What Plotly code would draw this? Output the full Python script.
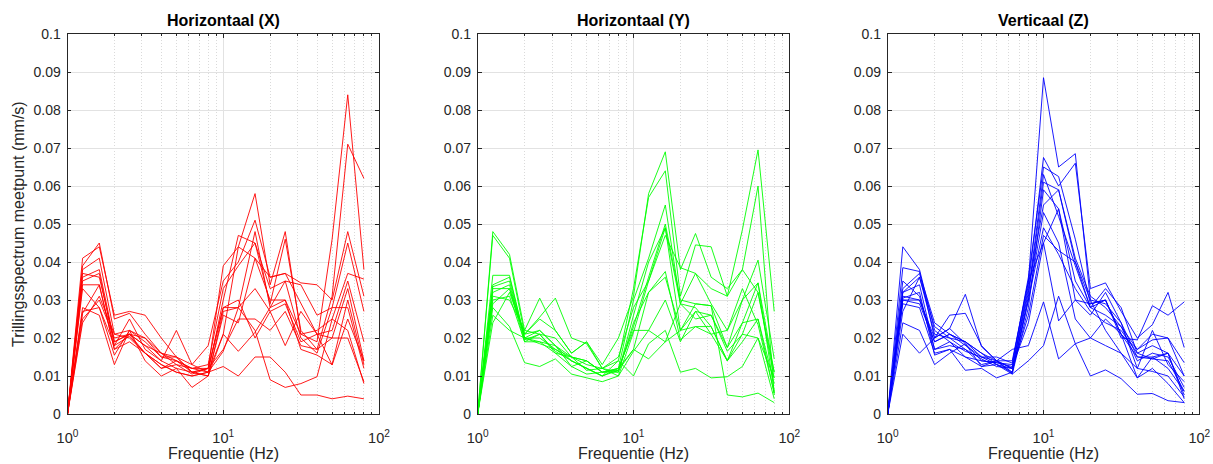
import plotly.graph_objects as go

# Third-octave band centre frequencies (Hz)
freq = [1, 1.25, 1.6, 2, 2.5, 3.15, 4, 5, 6.3, 8, 10, 12.5, 16, 20, 25, 31.5, 40, 50, 63, 80]

titles = ["Horizontaal (X)", "Horizontaal (Y)", "Verticaal (Z)"]
colors = ["#ff0000", "#00ff00", "#0000ff"]
y_title = "Trillingsspectrum meetpunt (mm/s)"
x_title = "Frequentie (Hz)"
y_tick_vals = [0, 0.01, 0.02, 0.03, 0.04, 0.05, 0.06, 0.07, 0.08, 0.09, 0.1]
y_tick_text = ["0", "0.01", "0.02", "0.03", "0.04", "0.05", "0.06", "0.07", "0.08", "0.09", "0.1"]
x_tick_vals = [1, 10, 100]
x_tick_text = ["10<sup>0</sup>", "10<sup>1</sup>", "10<sup>2</sup>"]

# values in 1e-3 mm/s
series_x = [
    [0, 41, 44, 26, 27, 26, 20, 15, 11, 12, 39, 44, 58, 34, 48, 21, 19, 46, 84, 38],
    [0, 39, 45, 25, 26.5, 21, 16, 14, 12, 11, 30, 47, 45, 29, 46, 22, 17, 31, 71, 62],
    [0, 38, 41, 21, 22, 20, 15, 15, 13, 18, 35, 40, 51, 36, 37, 34.5, 34, 30, 48, 31],
    [0, 36, 38, 19, 21, 18, 14, 12, 11, 12, 28, 28, 48, 28, 35, 34, 26, 28, 45, 27],
    [0, 35, 37, 18, 20.5, 16, 13, 11, 10, 11, 21, 44, 41, 30, 30, 21, 22, 25, 37, 35.5],
    [0, 34, 34, 17, 19, 16, 12, 14, 11, 10, 27, 28, 33, 27, 29, 19, 21, 22, 35, 19],
    [0, 33, 28, 15.5, 22, 19, 15, 14, 12, 12, 17, 25, 25, 22, 27, 18, 17, 20, 33, 14],
    [0, 28, 26, 13, 22, 14, 10, 12, 7, 10, 21, 16.5, 21.5, 28, 30, 17, 15.5, 13, 30, 13],
    [0, 27, 28, 18, 25, 17, 14, 22, 13, 11, 12.5, 10, 15, 15, 11, 5, 5, 4, 4.7, 4],
    [0, 26.5, 34, 17, 21, 16, 13, 11, 10, 11, 16.5, 28, 22, 9, 7, 8, 9.8, 25, 22, 8],
    [0, 25, 30, 20, 21, 18, 16, 13, 10.5, 12, 28, 30, 20, 27, 18, 27, 21, 12.9, 25, 14],
    [0, 24, 31, 21, 20, 16, 12, 13, 12, 13, 33, 39, 45, 33, 35, 20, 16, 28, 28, 12],
    [0, 37, 36, 19, 21, 20, 16, 15, 11, 10, 26, 24, 41, 36, 37, 29, 21, 20, 20, 8.5],
]

series_y = [
    [0, 48, 42, 22, 30.5, 22, 16, 19, 13, 20, 31, 58, 69, 38, 47.5, 36, 33, 38, 60, 5],
    [0, 47, 41, 21, 25.5, 30.5, 20, 18.5, 12, 14, 33, 57, 64, 31, 44.5, 44, 31, 48.5, 69.5, 27],
    [0, 36.5, 36.5, 20, 22, 18, 15, 14, 11, 12, 30, 41, 55, 29, 37, 29, 22, 30, 40.5, 14.5],
    [0, 33.5, 35, 19.5, 21, 16.5, 14, 12, 10, 11.5, 23, 36, 50, 30, 29, 28.5, 17.5, 24, 34.5, 11],
    [0, 33, 33, 19, 19, 16, 15, 11.5, 12, 10, 21.5, 35, 49, 22, 27, 26, 16.5, 21, 32, 9.5],
    [0, 31, 30, 22, 21, 16, 12.5, 14, 11, 12, 17, 32, 37.5, 19.5, 23, 23, 14, 19, 25, 8],
    [0, 28, 23, 13.5, 12.5, 14.5, 10.5, 9.5, 8.5, 10, 16.5, 22, 30, 19, 27, 21, 22, 33, 23.5, 5.5],
    [0, 26, 22, 20, 19, 18, 14, 12, 10, 14, 10, 18.5, 22, 11, 12, 9.5, 9.8, 12.5, 20, 4],
    [0, 24, 32, 21, 22, 18, 12.5, 10.5, 11, 11.5, 17, 14.5, 19, 22, 29, 28.5, 5, 4.5, 5.5, 3],
    [0, 32, 34, 20, 20, 17, 14, 12, 10, 12, 22, 22, 19, 29, 28, 23, 14, 24, 25, 5.5],
    [0, 30, 31, 19, 21, 20, 15, 13, 12, 11, 26, 40, 49, 29, 25, 26, 17.5, 30, 34.5, 6],
    [0, 29, 33, 21, 25, 22, 16, 19, 12, 15, 28, 35, 47, 38.5, 37, 33, 31, 38, 32, 11],
    [0, 34, 36, 20, 18.5, 17, 15, 14, 11, 11, 24, 32, 36, 22, 23, 21, 14, 21, 20, 9.5],
]

series_z = [
    [0, 31, 30, 19, 21, 19, 16, 14, 14, 35, 88.5, 65, 68.5, 30, 29, 24, 15, 14.5, 16, 5],
    [0, 44, 38, 22, 19, 16.5, 15, 14, 12, 34, 67.5, 60, 66, 33, 34.5, 27, 20, 23.5, 32, 17.5],
    [0, 38.5, 37.5, 20, 22.5, 18.5, 14, 13.5, 13, 36, 65, 62.5, 46, 29, 30, 21, 17, 19.5, 20, 13.5],
    [0, 33, 37, 24, 21, 19, 15, 13, 11, 31, 61, 59, 40, 28, 33, 28, 16, 18, 16, 10],
    [0, 32, 34, 17, 19, 15, 12.5, 13, 10.5, 28, 59, 54, 30, 26, 32, 24, 12, 22, 13, 8.5],
    [0, 30.5, 32, 15.5, 17, 11.5, 12, 9.5, 11, 30, 53, 45, 25, 20, 25, 21, 9.5, 15, 12, 6],
    [0, 30, 30, 20, 26, 26.5, 18, 14, 12, 26, 47, 43, 40, 30, 22, 16, 12, 11.2, 10, 4.5],
    [0, 29, 28, 16, 17, 15, 14, 13.5, 12.5, 24, 45, 54, 35, 28, 30, 21, 15, 15, 16, 4],
    [0, 24, 22, 13, 16, 18.5, 12.5, 14, 17, 18, 29.5, 14.5, 18.5, 20, 18, 16, 9.5, 12, 8, 3],
    [0, 21, 16, 20, 22.5, 31.5, 17.7, 14, 10.5, 14, 18, 31, 18.5, 10, 11.6, 9.3, 5.2, 5.4, 3.5, 3],
    [0, 30, 29, 19, 21, 18, 15, 15, 13.4, 35, 45, 24.5, 30, 29, 30, 20, 19.5, 28.5, 26, 29.5],
    [0, 27, 36, 23, 20, 19, 16, 13, 12, 33, 55, 59, 41, 31, 28, 23, 17, 21, 20, 10],
    [0, 35, 31, 17, 18, 17, 13, 14, 11, 30, 49, 42, 33, 27, 24, 22, 16, 14.5, 14, 6],
    [0, 32, 36, 21, 20, 17, 14.5, 12.5, 12, 32, 63, 52, 39, 28, 26, 23, 14, 16, 15, 7],
]

all_series = [series_x, series_y, series_z]

W, H = 1213, 464
x_px = [(67.5, 379.0), (477.7, 789.3), (887.7, 1199.3)]
y_px = (34.0, 414.0)
ydom = [(H - y_px[1]) / H, (H - y_px[0]) / H]

font_family = "Liberation Sans, Arial, Helvetica, sans-serif"
txt = "#262626"
axcol = "#262626"
minor_vals = [v * d for d in (1, 10) for v in range(2, 10)]

fig = go.Figure()
annotations = []
for i in range(3):
    sx = "" if i == 0 else str(i + 1)
    for s in all_series[i]:
        fig.add_trace(go.Scatter(
            x=freq, y=[v / 1000 for v in s], mode="lines",
            line=dict(color=colors[i], width=0.9),
            xaxis="x" + sx, yaxis="y" + sx, showlegend=False, hoverinfo="skip"))
    xd = [x_px[i][0] / W, x_px[i][1] / W]
    fig.layout["xaxis" + sx] = dict(
        type="log", range=[0, 2], domain=xd, anchor="y" + sx, automargin=False,
        tickvals=x_tick_vals, ticktext=x_tick_text,
        showline=True, linecolor=axcol, linewidth=0.8, mirror="ticks",
        ticks="inside", ticklen=4, tickcolor=axcol, tickwidth=0.8,
        ticklabelstandoff=11,
        showgrid=True, gridcolor="#e2e2e2", gridwidth=1,
        zeroline=False,
        minor=dict(tickvals=minor_vals, showgrid=True, gridcolor="#dadada",
                   griddash="1px,2px", gridwidth=1, ticks="inside", ticklen=2,
                   tickcolor=axcol),
        tickfont=dict(size=14.5, color=txt, family=font_family),
    )
    fig.layout["yaxis" + sx] = dict(
        range=[0, 0.1], domain=ydom, anchor="x" + sx, automargin=False,
        tickvals=y_tick_vals, ticktext=y_tick_text,
        showline=True, linecolor=axcol, linewidth=0.8, mirror="ticks",
        ticks="inside", ticklen=4, tickcolor=axcol, tickwidth=0.8,
        ticklabelstandoff=3,
        showgrid=True, gridcolor="#e2e2e2", gridwidth=1,
        zeroline=False,
        tickfont=dict(size=14, color=txt, family=font_family),
    )
    xc = (xd[0] + xd[1]) / 2
    annotations.append(dict(
        text="<b>" + titles[i] + "</b>", x=xc, y=(H - 20) / H,
        xref="paper", yref="paper", xanchor="center", yanchor="middle",
        showarrow=False, font=dict(size=16, color="#000000", family=font_family)))
    annotations.append(dict(
        text=x_title, x=xc, y=(H - 453) / H,
        xref="paper", yref="paper", xanchor="center", yanchor="middle",
        showarrow=False, font=dict(size=16, color=txt, family=font_family)))

annotations.append(dict(
    text=y_title, x=19 / W, y=(ydom[0] + ydom[1]) / 2, textangle=-90,
    xref="paper", yref="paper", xanchor="center", yanchor="middle",
    showarrow=False, font=dict(size=16, color=txt, family=font_family)))

fig.update_layout(
    width=W, height=H, margin=dict(l=0, r=0, t=0, b=0),
    paper_bgcolor="white", plot_bgcolor="white",
    annotations=annotations, font=dict(family=font_family, color=txt),
)
fig.write_html("out.html")
